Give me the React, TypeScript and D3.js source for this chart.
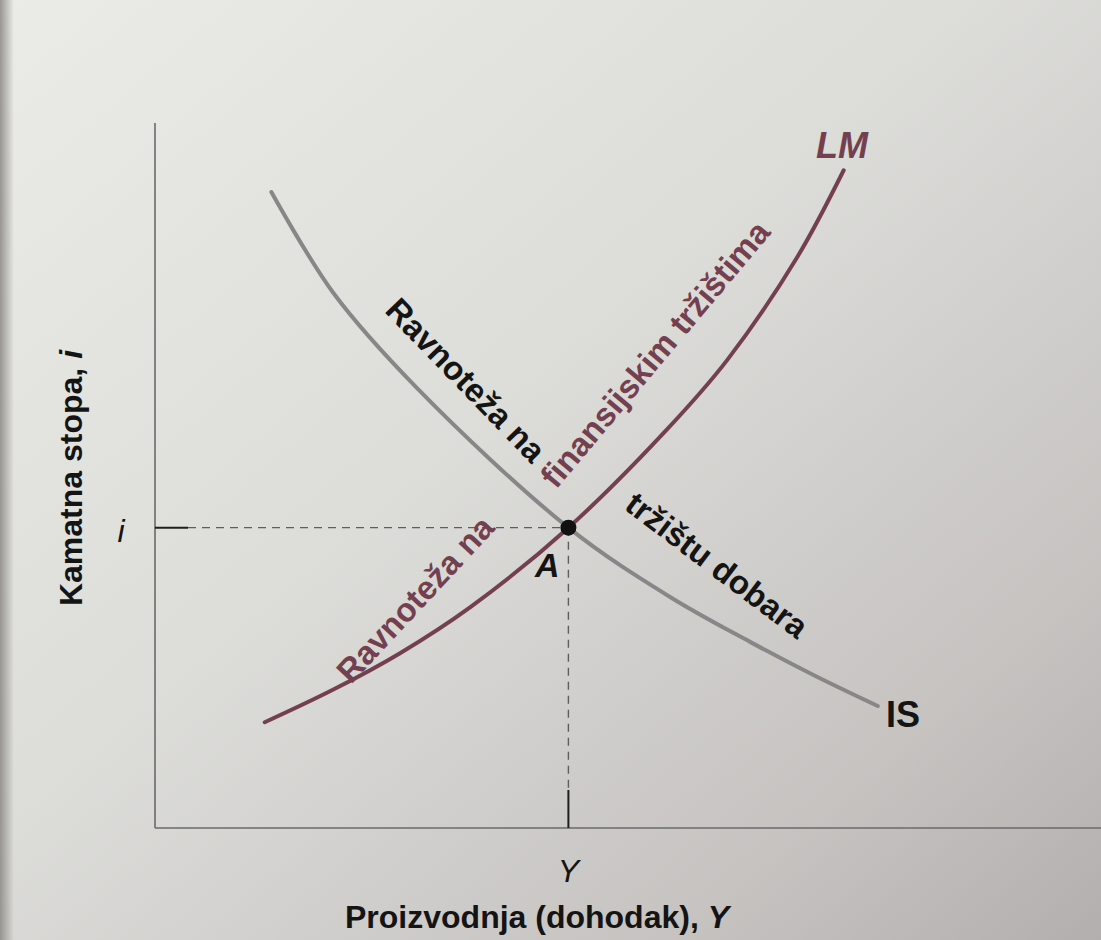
import React, { useEffect } from "react";
import * as d3 from "d3";

// ---- data (arbitrary units: output Y on x, interest rate i on y) ----
const IS_X = [12.3, 18.8, 27.7, 43.7, 54.4, 62.9, 69.6, 76.4];
const IS_Y = [90.2, 76.0, 62.4, 42.6, 32.8, 26.4, 21.7, 17.3];
const LM_X = [11.6, 18.8, 25.9, 33.3, 43.7, 54.1, 60.5, 67.9, 72.8];
const LM_Y = [15.0, 19.6, 24.8, 31.3, 42.6, 56.5, 66.4, 81.0, 93.3];
const EQ_Y = 43.7; // equilibrium output
const EQ_I = 42.6; // equilibrium interest rate

const X_TITLE = "Proizvodnja (dohodak), ";
const Y_TITLE = "Kamatna stopa, ";
const IS_LABEL_1 = "Ravnoteža na";
const IS_LABEL_2 = "tržištu dobara";
const LM_LABEL_1 = "Ravnoteža na";
const LM_LABEL_2 = "finansijskim tržištima";

const W = 1101;
const H = 940;
const FONT = "'Liberation Sans', Arial, Helvetica, sans-serif";
const IS_COLOR = "#878787";
const LM_COLOR = "#74404f";
const TEXT = "#141414";

export default function App() {
  useEffect(() => {
    document.body.style.margin = "0";
  }, []);

  const x = d3.scaleLinear().domain([0, 100]).range([155, 1101]);
  const y = d3.scaleLinear().domain([0, 100]).range([828, 123]);

  const line = d3
    .line<[number, number]>()
    .x((d) => x(d[0]))
    .y((d) => y(d[1]))
    .curve(d3.curveCatmullRom.alpha(0.5));

  const isPts = IS_X.map((v, k) => [v, IS_Y[k]] as [number, number]);
  const lmPts = LM_X.map((v, k) => [v, LM_Y[k]] as [number, number]);

  const ex = x(EQ_Y);
  const ey = y(EQ_I);
  const x0 = x(0);
  const y0 = y(0);

  const curveLabel = (
    text: string,
    cx: number,
    cy: number,
    angle: number,
    color: string
  ) => (
    <text
      x={0}
      y={0}
      transform={`translate(${cx},${cy}) rotate(${angle})`}
      textAnchor="middle"
      dy="0.35em"
      fontFamily={FONT}
      fontWeight="bold"
      fontSize={33}
      fill={color}
    >
      {text}
    </text>
  );

  return (
    <svg
      width={W}
      height={H}
      style={{ display: "block", position: "absolute", left: 0, top: 0 }}
    >
      <defs>
        <linearGradient id="bg" x1="0" y1="0" x2="1" y2="1">
          <stop offset="0" stopColor="#ebebe8" />
          <stop offset="0.45" stopColor="#dcdcd9" />
          <stop offset="0.8" stopColor="#c6c3c1" />
          <stop offset="1" stopColor="#b3afae" />
        </linearGradient>
        <linearGradient id="edge" x1="0" y1="0" x2="1" y2="0">
          <stop offset="0" stopColor="#8f8d89" stopOpacity="0.9" />
          <stop offset="1" stopColor="#8f8d89" stopOpacity="0" />
        </linearGradient>
      </defs>
      <rect x={0} y={0} width={W} height={H} fill="url(#bg)" />
      <rect x={0} y={0} width={14} height={H} fill="url(#edge)" />

      {/* axes */}
      <line x1={x0} y1={y(100)} x2={x0} y2={y0} stroke="#6a6a6a" strokeWidth={1.6} />
      <line x1={x0} y1={y0} x2={x(100)} y2={y0} stroke="#6a6a6a" strokeWidth={1.6} />

      {/* guide lines to equilibrium */}
      <line x1={x0} y1={ey} x2={x0 + 33} y2={ey} stroke="#1e1e1e" strokeWidth={2} />
      <line
        x1={x0 + 33}
        y1={ey}
        x2={ex}
        y2={ey}
        stroke="#5e5e5e"
        strokeWidth={1.4}
        strokeDasharray="8 6"
      />
      <line
        x1={ex}
        y1={ey}
        x2={ex}
        y2={y0 - 38}
        stroke="#5e5e5e"
        strokeWidth={1.4}
        strokeDasharray="8 6"
      />
      <line x1={ex} y1={y0 - 38} x2={ex} y2={y0} stroke="#1e1e1e" strokeWidth={2} />

      {/* curves */}
      <path d={line(isPts) || ""} fill="none" stroke={IS_COLOR} strokeWidth={4} strokeLinecap="round" />
      <path d={line(lmPts) || ""} fill="none" stroke={LM_COLOR} strokeWidth={4} strokeLinecap="round" />

      {/* equilibrium point */}
      <circle cx={ex} cy={ey} r={8} fill="#111" />

      {/* curve labels */}
      {curveLabel(IS_LABEL_1, 466, 380, 46, TEXT)}
      {curveLabel(IS_LABEL_2, 717, 565, 37, TEXT)}
      {curveLabel(LM_LABEL_2, 655, 354, -50, LM_COLOR)}
      {curveLabel(LM_LABEL_1, 415, 599, -47, LM_COLOR)}

      <text x={816} y={158} fontFamily={FONT} fontWeight="bold" fontStyle="italic" fontSize={36} fill={LM_COLOR}>
        LM
      </text>
      <text x={886} y={727} fontFamily={FONT} fontWeight="bold" fontSize={36} fill={TEXT}>
        IS
      </text>
      <text x={535} y={577} fontFamily={FONT} fontWeight="bold" fontStyle="italic" fontSize={34} fill={TEXT}>
        A
      </text>

      {/* tick labels */}
      <text x={121} y={542} textAnchor="middle" fontFamily={FONT} fontStyle="italic" fontSize={32} fill={TEXT}>
        i
      </text>
      <text x={ex} y={882} textAnchor="middle" fontFamily={FONT} fontStyle="italic" fontSize={32} fill={TEXT}>
        Y
      </text>

      {/* axis titles */}
      <text x={345} y={928} fontFamily={FONT} fontWeight="bold" fontSize={32} fill={TEXT}>
        {X_TITLE}
        <tspan fontStyle="italic">Y</tspan>
      </text>
      <text
        transform={`translate(82,478) rotate(-90)`}
        textAnchor="middle"
        fontFamily={FONT}
        fontWeight="bold"
        fontSize={32}
        fill={TEXT}
      >
        {Y_TITLE}
        <tspan fontStyle="italic">i</tspan>
      </text>
    </svg>
  );
}
